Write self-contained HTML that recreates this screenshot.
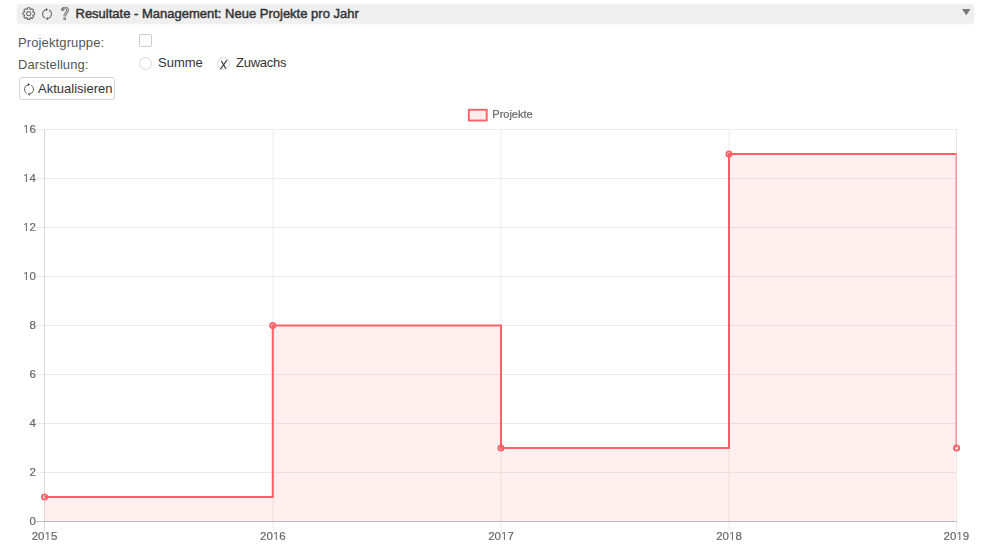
<!DOCTYPE html>
<html><head><meta charset="utf-8">
<style>
html,body{margin:0;padding:0;background:#fff;width:994px;height:560px;overflow:hidden;font-family:"Liberation Sans",sans-serif;}
.abs{position:absolute;}
#hdr{position:absolute;left:17px;top:4px;width:957px;height:19px;background:#efefef;border-radius:4px;box-shadow:0 1px 2px rgba(0,0,0,0.08);}
#htitle{position:absolute;left:75.5px;top:6px;font-size:13px;font-weight:normal;-webkit-text-stroke:0.45px #333;color:#333;white-space:nowrap;line-height:15px;}
.lbl{position:absolute;left:18px;font-size:13px;color:#555;white-space:nowrap;line-height:15px;}
.txt{position:absolute;font-size:13px;color:#333;white-space:nowrap;line-height:15px;}
#cb{position:absolute;left:139px;top:34px;width:11px;height:11px;border:1px solid #ccc;border-radius:2px;background:#fff;}
.rad{position:absolute;width:11px;height:11px;border:1px solid #d9d9d9;border-radius:50%;background:#fff;}
#btn{position:absolute;left:19px;top:77px;width:94px;height:21px;border:1px solid #d4d4d4;border-radius:3px;background:#fff;}
#btntxt{position:absolute;left:38px;top:81px;font-size:13px;color:#333;white-space:nowrap;line-height:15px;}
</style></head>
<body>
<div id="hdr"></div>
<svg class="abs" style="left:0;top:0" width="994" height="30" viewBox="0 0 994 30">
  <!-- gear -->
  <g transform="translate(28.75,13.6)" fill="none" stroke="#6a6a6a" stroke-width="1.05" stroke-linejoin="round">
    <circle r="2.1"/>
    <path d="M-1.51,-4.02 L-1.17,-5.78 L1.17,-5.78 L1.51,-4.02 L1.77,-3.92 L3.26,-4.92 L4.92,-3.26 L3.92,-1.77 L4.02,-1.51 L5.78,-1.17 L5.78,1.17 L4.02,1.51 L3.92,1.77 L4.92,3.26 L3.26,4.92 L1.77,3.92 L1.51,4.02 L1.17,5.78 L-1.17,5.78 L-1.51,4.02 L-1.77,3.92 L-3.26,4.92 L-4.92,3.26 L-3.92,1.77 L-4.02,1.51 L-5.78,1.17 L-5.78,-1.17 L-4.02,-1.51 L-3.92,-1.77 L-4.92,-3.26 L-3.26,-4.92 L-1.77,-3.92 Z"/>
  </g>
  <!-- refresh -->
  <g transform="translate(47,14) scale(0.97)">
    <path d="M-1.00,-4.49 A4.6,4.6 0 0 0 -2.16,4.06" fill="none" stroke="#6e6e6e" stroke-width="1.05"/>
    <path d="M2.16,-4.06 A4.6,4.6 0 0 1 0.80,4.53" fill="none" stroke="#6e6e6e" stroke-width="1.05"/>
    <path d="M-1.15,-6.25 L0.85,-4.75 L-1.0,-3.2 Z" fill="#3c3c3c"/>
    <path d="M0.6,3.1 L-1.15,4.8 L0.7,6.45 Z" fill="#3c3c3c"/>
  </g>
  <!-- question -->
  <g>
    <path d="M62.6,9.9 C62.6,7.4 67.9,7.1 67.7,10.2 C67.5,12.4 64.8,13.2 64.7,16.4" fill="none" stroke="#707070" stroke-width="2.6"/>
    <path d="M62.6,9.9 C62.6,7.4 67.9,7.1 67.7,10.2 C67.5,12.4 64.8,13.2 64.7,16.4" fill="none" stroke="#e0e0e0" stroke-width="0.9"/>
    <ellipse cx="62.7" cy="9.7" rx="1.5" ry="1.4" fill="#707070"/>
    <ellipse cx="62.9" cy="9.6" rx="0.6" ry="0.5" fill="#b8b8b8"/>
    <rect x="63.4" y="17.5" width="2.6" height="2.5" rx="0.4" fill="#707070"/>
    <rect x="64.2" y="18.2" width="1" height="1.1" fill="#b8b8b8"/>
  </g>
  <!-- triangle -->
  <path d="M962,9 L970.5,9 L966.25,15.2 Z" fill="#777"/>
</svg>
<div id="htitle">Resultate - Management: Neue Projekte pro Jahr</div>

<div class="lbl" style="top:35px;letter-spacing:0.12px">Projektgruppe:</div>
<div id="cb"></div>
<div class="lbl" style="top:57px;letter-spacing:0.1px">Darstellung:</div>
<div class="rad" style="left:139px;top:57px"></div>
<div class="txt" style="left:158px;top:55px">Summe</div>
<div class="rad" style="left:217px;top:57px"></div>
<svg class="abs" style="left:217px;top:57px" width="14" height="14" viewBox="0 0 14 14">
  <path d="M4.3,3.7 C5.3,5.5 7.6,9.4 8.9,11.6" fill="none" stroke="#333" stroke-width="1.1"/>
  <path d="M10,3.1 L3.3,12.3" fill="none" stroke="#333" stroke-width="1.1"/>
</svg>
<div class="txt" style="left:236px;top:55px;letter-spacing:-0.25px">Zuwachs</div>

<div id="btn"></div>
<svg class="abs" style="left:0;top:70px" width="60" height="30" viewBox="0 70 60 30">
  <g transform="translate(29,89.35) scale(1.0)">
    <path d="M-1.00,-4.49 A4.6,4.6 0 0 0 -2.16,4.06" fill="none" stroke="#666" stroke-width="1.0"/>
    <path d="M2.16,-4.06 A4.6,4.6 0 0 1 0.80,4.53" fill="none" stroke="#666" stroke-width="1.0"/>
    <path d="M-1.15,-6.25 L0.85,-4.75 L-1.0,-3.2 Z" fill="#333"/>
    <path d="M0.6,3.1 L-1.15,4.8 L0.7,6.45 Z" fill="#333"/>
  </g>
</svg>
<div id="btntxt">Aktualisieren</div>

<!-- chart -->
<svg class="abs" style="left:0;top:100px;will-change:transform" width="994" height="460" viewBox="0 100 994 460">
  <!-- legend -->
  <rect x="468.8" y="109.8" width="17.9" height="10.7" fill="#ffeeee" stroke="#ff6065" stroke-width="1.9"/>
  <text x="492.3" y="118" font-family="Liberation Sans" font-size="11" fill="#666" stroke="#666" stroke-width="0.2">Projekte</text>
  <!-- horizontal gridlines -->
  <g stroke="#ebebeb" stroke-width="1" shape-rendering="crispEdges">
    <line x1="36" y1="129.5" x2="957" y2="129.5"/>
    <line x1="36" y1="178.5" x2="957" y2="178.5"/>
    <line x1="36" y1="227.5" x2="957" y2="227.5"/>
    <line x1="36" y1="276.5" x2="957" y2="276.5"/>
    <line x1="36" y1="325.5" x2="957" y2="325.5"/>
    <line x1="36" y1="374.5" x2="957" y2="374.5"/>
    <line x1="36" y1="423.5" x2="957" y2="423.5"/>
    <line x1="36" y1="472.5" x2="957" y2="472.5"/>
  </g>
  <!-- vertical gridlines -->
  <g stroke="#ececec" stroke-width="1">
    <line x1="273" y1="129" x2="273" y2="531"/>
    <line x1="501" y1="129" x2="501" y2="531"/>
    <line x1="729" y1="129" x2="729" y2="531"/>
  </g>
  <g stroke-width="1" shape-rendering="crispEdges">
    <line x1="44.5" y1="129" x2="44.5" y2="531" stroke="#d8d8d8"/>
    <line x1="956.5" y1="129" x2="956.5" y2="531" stroke="#e8e8e8"/>
  </g>
  <!-- zero line -->
  <line x1="36" y1="521.5" x2="957" y2="521.5" stroke="#bfbfbf" shape-rendering="crispEdges"/>
  <!-- fill -->
  <path d="M44.60,497.00 L272.75,497.00 L272.75,325.50 L501.00,325.50 L501.00,448.00 L729.00,448.00 L729.00,154.00 L957.00,154.00 L957.00,448.00 L957.00,522 L44.60,522 Z" fill="rgba(255,80,80,0.095)" clip-path="url(#cl)"/>
  <defs><clipPath id="cl"><rect x="44" y="120" width="911.5" height="403"/></clipPath></defs>
  <path d="M44.60,497.00 L272.75,497.00 L272.75,325.50 L501.00,325.50 L501.00,448.00 L729.00,448.00 L729.00,154.00 L956.50,154.00" fill="none" stroke="#ff6067" stroke-width="2"/>
  <line x1="956.2" y1="154.0" x2="956.2" y2="448.0" stroke="#f5979b" stroke-width="1.6"/>
  <!-- points -->
  <g fill="rgba(245,80,80,0.12)" stroke="#ff6067" stroke-width="1.8">
    <circle cx="44.60" cy="497.00" r="2.65"/>
    <circle cx="272.75" cy="325.50" r="2.65"/>
    <circle cx="501.00" cy="448.00" r="2.65"/>
    <circle cx="729.00" cy="154.00" r="2.65"/>
    <circle cx="956.60" cy="448.00" r="2.65"/>
  </g>
  <!-- axis labels -->
  <g font-family="Liberation Sans" font-size="11.5" fill="#666" stroke="#666" stroke-width="0.2">
    <text x="29.40" y="133.00">6</text>
    <text x="29.40" y="182.00">4</text>
    <text x="29.40" y="231.00">2</text>
    <text x="29.40" y="280.00">0</text>
    <text x="29.40" y="329.00">8</text>
    <text x="29.40" y="378.00">6</text>
    <text x="29.40" y="427.00">4</text>
    <text x="29.40" y="476.00">2</text>
    <text x="29.40" y="525.00">0</text>
    <text x="31.71" y="540.00">2</text>
    <text x="38.10" y="540.00">0</text>
    <text x="50.90" y="540.00">5</text>
    <text x="260.11" y="540.00">2</text>
    <text x="266.50" y="540.00">0</text>
    <text x="279.30" y="540.00">6</text>
    <text x="488.21" y="540.00">2</text>
    <text x="494.60" y="540.00">0</text>
    <text x="507.40" y="540.00">7</text>
    <text x="716.21" y="540.00">2</text>
    <text x="722.60" y="540.00">0</text>
    <text x="735.40" y="540.00">8</text>
    <text x="943.61" y="540.00">2</text>
    <text x="950.00" y="540.00">0</text>
    <text x="962.80" y="540.00">9</text>
    <path d="M25.90,133.00 L26.92,133.00 L26.92,125.09 L25.98,125.09 L24.11,126.37 L24.11,127.33 L25.90,126.05 Z M25.90,182.00 L26.92,182.00 L26.92,174.09 L25.98,174.09 L24.11,175.37 L24.11,176.33 L25.90,175.05 Z M25.90,231.00 L26.92,231.00 L26.92,223.09 L25.98,223.09 L24.11,224.37 L24.11,225.33 L25.90,224.05 Z M25.90,280.00 L26.92,280.00 L26.92,272.09 L25.98,272.09 L24.11,273.37 L24.11,274.33 L25.90,273.05 Z M47.39,540.00 L48.41,540.00 L48.41,532.09 L47.48,532.09 L45.61,533.37 L45.61,534.33 L47.39,533.05 Z M275.79,540.00 L276.81,540.00 L276.81,532.09 L275.88,532.09 L274.01,533.37 L274.01,534.33 L275.79,533.05 Z M503.89,540.00 L504.91,540.00 L504.91,532.09 L503.98,532.09 L502.11,533.37 L502.11,534.33 L503.89,533.05 Z M731.89,540.00 L732.91,540.00 L732.91,532.09 L731.98,532.09 L730.11,533.37 L730.11,534.33 L731.89,533.05 Z M959.29,540.00 L960.31,540.00 L960.31,532.09 L959.38,532.09 L957.51,533.37 L957.51,534.33 L959.29,533.05 Z" stroke="none"/>
  </g>
</svg>
</body></html>
